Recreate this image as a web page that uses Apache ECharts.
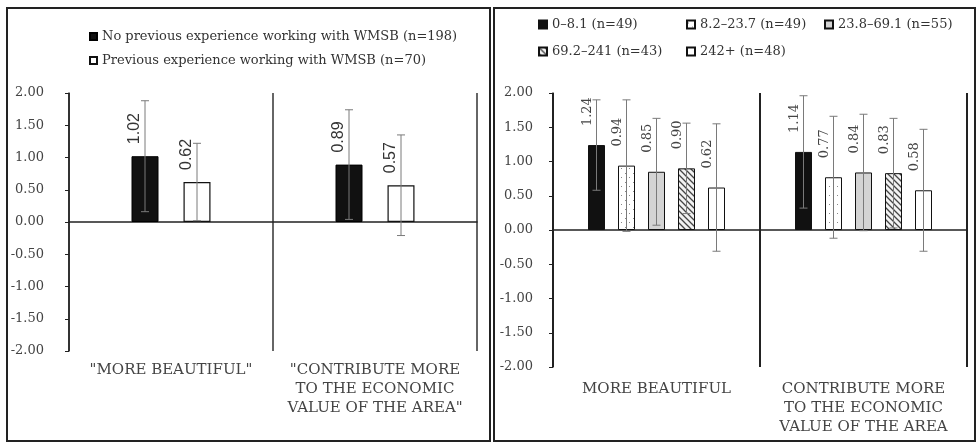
<!DOCTYPE html>
<html>
<head>
<meta charset="utf-8">
<script src="https://cdn.jsdelivr.net/npm/echarts@6/dist/echarts.min.js"></script>
<style>
html, body { margin: 0; padding: 0; background: #fff; }
#chart { width: 977px; height: 444px; }
</style>
</head>
<body>
<div id="chart"></div>
<script>
// left panel: experience with WMSB
const leftCategories = ['"MORE BEAUTIFUL"', '"CONTRIBUTE MORE\nTO THE ECONOMIC\nVALUE OF THE AREA"'];
const leftNames = ['No previous experience working with WMSB (n=198)', 'Previous experience working with WMSB (n=70)'];
const leftNoExp = [1.02, 0.89];
const leftExp = [0.62, 0.57];
const leftNoExpSd = [0.86, 0.85];
const leftExpSd = [0.60, 0.78];

// right panel: groups
const rightCategories = ['MORE BEAUTIFUL', 'CONTRIBUTE MORE\nTO THE ECONOMIC\nVALUE OF THE AREA'];
const rightNames = ['0–8.1 (n=49)', '8.2–23.7 (n=49)', '23.8–69.1 (n=55)', '69.2–241 (n=43)', '242+ (n=48)'];
const rightG1 = [1.24, 1.14];
const rightG2 = [0.94, 0.77];
const rightG3 = [0.85, 0.84];
const rightG4 = [0.90, 0.83];
const rightG5 = [0.62, 0.58];
const rightG1Sd = [0.66, 0.82];
const rightG2Sd = [0.96, 0.89];
const rightG3Sd = [0.78, 0.85];
const rightG4Sd = [0.66, 0.80];
const rightG5Sd = [0.93, 0.89];

const yTicks = { min: -2, max: 2, step: 0.5 };

const serif = '"DejaVu Serif", "Liberation Serif", serif';
const sans = '"Liberation Sans", Arial, sans-serif';

// little canvas patterns for the bars
function pattern(kind) {
    const c = document.createElement('canvas');
    const ctx = c.getContext('2d');
    if (kind === 'dots') {
        c.width = 8; c.height = 9;
        ctx.fillStyle = '#fff'; ctx.fillRect(0, 0, 8, 9);
        ctx.fillStyle = '#888';
        ctx.fillRect(1, 2, 1, 1);
        ctx.fillRect(5, 6, 1, 1);
    } else if (kind === 'hatch') {
        c.width = 6; c.height = 6;
        ctx.fillStyle = '#f2f2f2'; ctx.fillRect(0, 0, 6, 6);
        ctx.strokeStyle = '#444'; ctx.lineWidth = 1.3;
        ctx.beginPath();
        ctx.moveTo(-1, -1); ctx.lineTo(7, 7);
        ctx.moveTo(-4, 2); ctx.lineTo(2, 8);
        ctx.moveTo(2, -4); ctx.lineTo(8, 2);
        ctx.stroke();
    }
    return { image: c, repeat: 'repeat' };
}

function errorSeries(means, sds, xIdx, yIdx, offset) {
    return {
        type: 'custom',
        xAxisIndex: xIdx,
        yAxisIndex: yIdx,
        z: 5,
        silent: true,
        data: means.map((m, i) => [i, m - sds[i], m + sds[i]]),
        renderItem: function (params, api) {
            const lo = api.coord([api.value(0), api.value(1)]);
            const hi = api.coord([api.value(0), api.value(2)]);
            const x = lo[0] + offset;
            const st = { stroke: '#7a7a7a', lineWidth: 1 };
            return {
                type: 'group',
                children: [
                    { type: 'line', shape: { x1: x, y1: lo[1], x2: x, y2: hi[1] }, style: st },
                    { type: 'line', shape: { x1: x - 4, y1: lo[1], x2: x + 4, y2: lo[1] }, style: st },
                    { type: 'line', shape: { x1: x - 4, y1: hi[1], x2: x + 4, y2: hi[1] }, style: st }
                ]
            };
        }
    };
}

function yAxis(grid, margin) {
    return {
        type: 'value', gridIndex: grid,
        min: yTicks.min, max: yTicks.max, interval: yTicks.step,
        axisLine: { show: true, lineStyle: { color: '#222', width: 1.5 } },
        axisTick: { show: true, length: 4, lineStyle: { color: '#222' } },
        axisLabel: { formatter: v => v.toFixed(2), fontFamily: serif, fontSize: 13, color: '#444', margin: margin },
        splitLine: { show: false }
    };
}

function labelAxis(grid, cats, margin, lineColor) {
    return {
        type: 'category', gridIndex: grid, data: cats, position: 'bottom',
        axisLine: { show: false, onZero: false },
        axisTick: { show: false },
        axisLabel: { interval: 0, fontFamily: serif, fontSize: 15, color: '#444', lineHeight: 19, margin: margin },
        splitLine: { show: true, lineStyle: { color: lineColor, width: 2 } }
    };
}

function zeroAxis(grid, cats) {
    return {
        type: 'category', gridIndex: grid, data: cats, position: 'top',
        axisLine: { show: true, onZero: true, lineStyle: { color: '#222', width: 1.5 } },
        axisTick: { show: false },
        axisLabel: { show: false },
        splitLine: { show: false }
    };
}

const leftBarW = 27, leftGap = 25;
const rightBarW = 17, rightGap = 13;

// offset is in the rotated frame: second number moves the label left on screen
const leftLabel = {
    show: true, position: 'top', rotate: 90, align: 'left', verticalAlign: 'middle',
    distance: 12, offset: [0, -10],
    fontFamily: sans, fontSize: 16, color: '#333',
    formatter: p => p.value.toFixed(2)
};
const rightLabel = {
    show: true, position: 'top', rotate: 90, align: 'left', verticalAlign: 'middle',
    distance: 19, offset: [0, -9],
    fontFamily: serif, fontSize: 13, color: '#444',
    formatter: p => p.value.toFixed(2)
};

const rightValues = [rightG1, rightG2, rightG3, rightG4, rightG5];
const rightSds = [rightG1Sd, rightG2Sd, rightG3Sd, rightG4Sd, rightG5Sd];
const rightFills = ['#111', pattern('dots'), '#d4d4d4', pattern('hatch'), '#fff'];

const series = [
    {
        name: leftNames[0], type: 'bar', xAxisIndex: 0, yAxisIndex: 0,
        barWidth: leftBarW, barGap: (leftGap / leftBarW * 100) + '%',
        data: leftNoExp,
        itemStyle: { color: '#111', borderColor: '#000', borderWidth: 1 },
        label: leftLabel
    },
    {
        name: leftNames[1], type: 'bar', xAxisIndex: 0, yAxisIndex: 0,
        barWidth: leftBarW, barGap: (leftGap / leftBarW * 100) + '%',
        data: leftExp,
        itemStyle: { color: '#fff', borderColor: '#111', borderWidth: 1.2 },
        label: leftLabel
    },
    errorSeries(leftNoExp, leftNoExpSd, 0, 0, -(leftBarW + leftGap) / 2),
    errorSeries(leftExp, leftExpSd, 0, 0, (leftBarW + leftGap) / 2)
];

rightValues.forEach((vals, i) => {
    series.push({
        name: rightNames[i], type: 'bar', xAxisIndex: 2, yAxisIndex: 1,
        barWidth: rightBarW, barGap: (rightGap / rightBarW * 100) + '%',
        data: vals,
        itemStyle: { color: rightFills[i], borderColor: '#111', borderWidth: 1 },
        label: rightLabel
    });
});
rightValues.forEach((vals, i) => {
    series.push(errorSeries(vals, rightSds[i], 2, 1, (i - 2) * (rightBarW + rightGap)));
});

const legendText = { fontFamily: serif, fontSize: 13, color: '#333' };
function rightLegend(name, left, top) {
    return {
        data: [name], left: left, top: top, icon: 'rect', itemWidth: 8, itemHeight: 8,
        itemGap: 0, textStyle: legendText, selectedMode: false
    };
}

const option = {
    animation: false,
    backgroundColor: '#fff',
    legend: [
        {
            data: leftNames, orient: 'vertical', left: 84, top: 25, icon: 'rect',
            itemWidth: 7, itemHeight: 7, itemGap: 11, textStyle: legendText, selectedMode: false
        },
        rightLegend(rightNames[0], 533, 13),
        rightLegend(rightNames[1], 681, 13),
        rightLegend(rightNames[2], 819, 13),
        rightLegend(rightNames[3], 533, 40),
        rightLegend(rightNames[4], 681, 40)
    ],
    grid: [
        { left: 69, right: 500, top: 93, bottom: 93 },
        { left: 553, right: 10, top: 93, bottom: 77 }
    ],
    xAxis: [
        labelAxis(0, leftCategories, 10, '#666'),
        zeroAxis(0, leftCategories),
        labelAxis(1, rightCategories, 13, '#222'),
        zeroAxis(1, rightCategories)
    ],
    yAxis: [yAxis(0, 25), yAxis(1, 20)],
    graphic: [
        { type: 'rect', shape: { x: 7, y: 8, width: 483, height: 433 }, style: { fill: null, stroke: '#222', lineWidth: 2 }, silent: true },
        { type: 'rect', shape: { x: 494, y: 8, width: 481, height: 433 }, style: { fill: null, stroke: '#222', lineWidth: 2 }, silent: true }
    ],
    series: series
};

const myChart = echarts.init(document.getElementById('chart'));
myChart.setOption(option);
window.addEventListener('resize', function () {
    myChart.resize();
});
</script>
</body>
</html>
